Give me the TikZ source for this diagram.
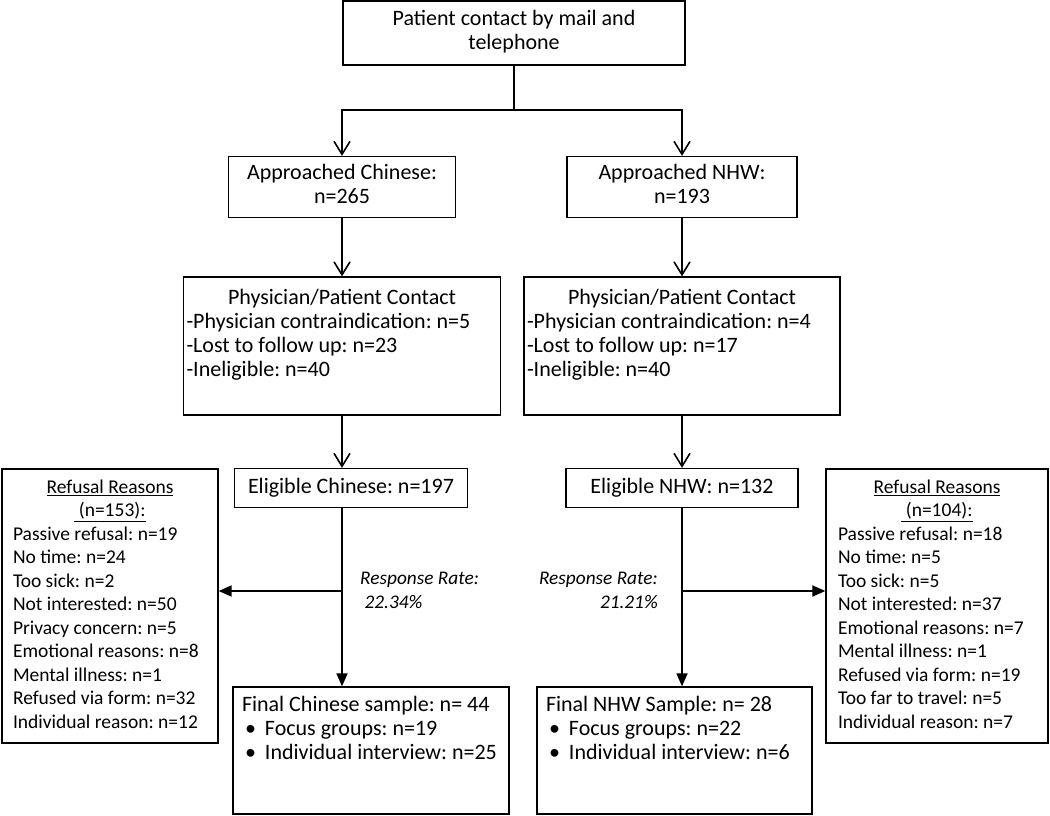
\documentclass[tikz,border=0pt]{standalone}
\usepackage{fontspec}
\setmainfont{Carlito}
\usepackage{tikz}
\usetikzlibrary{arrows.meta, positioning, calc}
\frenchspacing

\tikzset{
  box/.style={draw, rectangle, line width=1.3pt, inner sep=0pt, font=\fontsize{22}{24}\selectfont},
  listbox/.style={box, font=\fontsize{19.5}{23.5}\selectfont},
  link/.style={line width=1.8pt},
  openarr/.style={link, -{Straight Barb[length=13pt, width=16pt, line width=1.6pt]}},
  fillarr/.style={link, -{Triangle[length=13pt, width=11pt]}},
  note/.style={inner sep=0pt, font=\fontsize{19.3}{23.5}\selectfont\itshape}
}

\begin{document}
\begin{tikzpicture}[x=1pt, y=-1pt]
\useasboundingbox (0,0) rectangle (1050,816);

% First contact
\node[box, minimum width=342pt, minimum height=64pt] (contact) at (514,33) {
\begin{tabular}{c}
Patient contact by mail and \\
telephone
\end{tabular}
};

% Approached
\node[box, minimum width=227pt, minimum height=61pt] (apprC) at (342,187) {
\begin{tabular}{c}
Approached Chinese: \\
n=265
\end{tabular}
};
\node[box, minimum width=230pt, minimum height=61pt] (apprN) at (682,187) {
\begin{tabular}{c}
Approached NHW: \\
n=193
\end{tabular}
};

% Physician/Patient contact
\node[box, minimum width=317pt, minimum height=138pt] (physC) at (342,346) {
\begin{tabular}{@{}p{311pt}@{}}
\multicolumn{1}{c}{Physician/Patient Contact} \\
-Physician contraindication: n=5 \\
-Lost to follow up: n=23 \\
-Ineligible: n=40 \\[20pt]
\end{tabular}
};
\node[box, minimum width=316pt, minimum height=138pt] (physN) at (682,346) {
\begin{tabular}{@{}p{310pt}@{}}
\multicolumn{1}{c}{Physician/Patient Contact} \\
-Physician contraindication: n=4 \\
-Lost to follow up: n=17 \\
-Ineligible: n=40 \\[20pt]
\end{tabular}
};

% Eligible
\node[box, minimum width=233pt, minimum height=39pt] (eligC) at (351,488) {Eligible Chinese: n=197};
\node[box, minimum width=232pt, minimum height=39pt] (eligN) at (682,488) {Eligible NHW: n=132};

% Refusal reasons
\node[listbox, minimum width=216pt, minimum height=274pt] (refC) at (110,606) {
\begin{tabular}{@{}p{194pt}@{}}
\multicolumn{1}{c}{\underline{Refusal Reasons}} \\
\multicolumn{1}{c}{\underline{\ (n=153):}} \\
Passive refusal: n=19 \\
No time: n=24 \\
Too sick: n=2 \\
Not interested: n=50 \\
Privacy concern: n=5 \\
Emotional reasons: n=8 \\
Mental illness: n=1 \\
Refused via form: n=32 \\
Individual reason: n=12
\end{tabular}
};
\node[listbox, minimum width=222pt, minimum height=274pt] (refN) at (937,606) {
\begin{tabular}{@{}p{198pt}@{}}
\multicolumn{1}{c}{\underline{Refusal Reasons}} \\
\multicolumn{1}{c}{\underline{\ (n=104):}} \\
Passive refusal: n=18 \\
No time: n=5 \\
Too sick: n=5 \\
Not interested: n=37 \\
Emotional reasons: n=7 \\
Mental illness: n=1 \\
Refused via form: n=19 \\
Too far to travel: n=5 \\
Individual reason: n=7
\end{tabular}
};

% Final samples
\node[box, minimum width=276pt, minimum height=127pt] (finC) at (371,750.5) {
\begin{tabular}{@{}p{258pt}@{}}
Final Chinese sample: n= 44 \\
\hspace{3pt}\textbullet\hspace{9pt}Focus groups: n=19 \\
\hspace{3pt}\textbullet\hspace{9pt}Individual interview: n=25 \\[39pt]
\end{tabular}
};
\node[box, minimum width=275pt, minimum height=127pt] (finN) at (674.5,750.5) {
\begin{tabular}{@{}p{257pt}@{}}
Final NHW Sample: n= 28 \\
\hspace{3pt}\textbullet\hspace{9pt}Focus groups: n=22 \\
\hspace{3pt}\textbullet\hspace{9pt}Individual interview: n=6 \\[39pt]
\end{tabular}
};

% Response rates
\node[note, anchor=west] (rateC) at (360,592) {
\begin{tabular}{@{}l@{}}
Response Rate: \\
\ 22.34\%
\end{tabular}
};
\node[note, anchor=east] (rateN) at (658,592) {
\begin{tabular}{@{}r@{}}
Response Rate: \\
21.21\%
\end{tabular}
};

% Connectors
\coordinate (split) at (514,110);
\draw[link] (contact.south) -- (split);
\draw[openarr] (split) -| (apprC.north);
\draw[openarr] (split) -| (apprN.north);

\draw[openarr] (apprC.south) -- (physC.north);
\draw[openarr] (apprN.south) -- (physN.north);
\draw[openarr] (physC.south) -- (physC.south |- eligC.north);
\draw[openarr] (physN.south) -- (physN.south |- eligN.north);

\draw[fillarr] (physC.south |- eligC.south) -- (physC.south |- finC.north);
\draw[fillarr] (physN.south |- eligN.south) -- (physN.south |- finN.north);

\coordinate (forkC) at (342,591);
\coordinate (forkN) at (682,591);
\draw[fillarr] (forkC) -- (forkC -| refC.east);
\draw[fillarr] (forkN) -- (forkN -| refN.west);
\end{tikzpicture}
\end{document}
